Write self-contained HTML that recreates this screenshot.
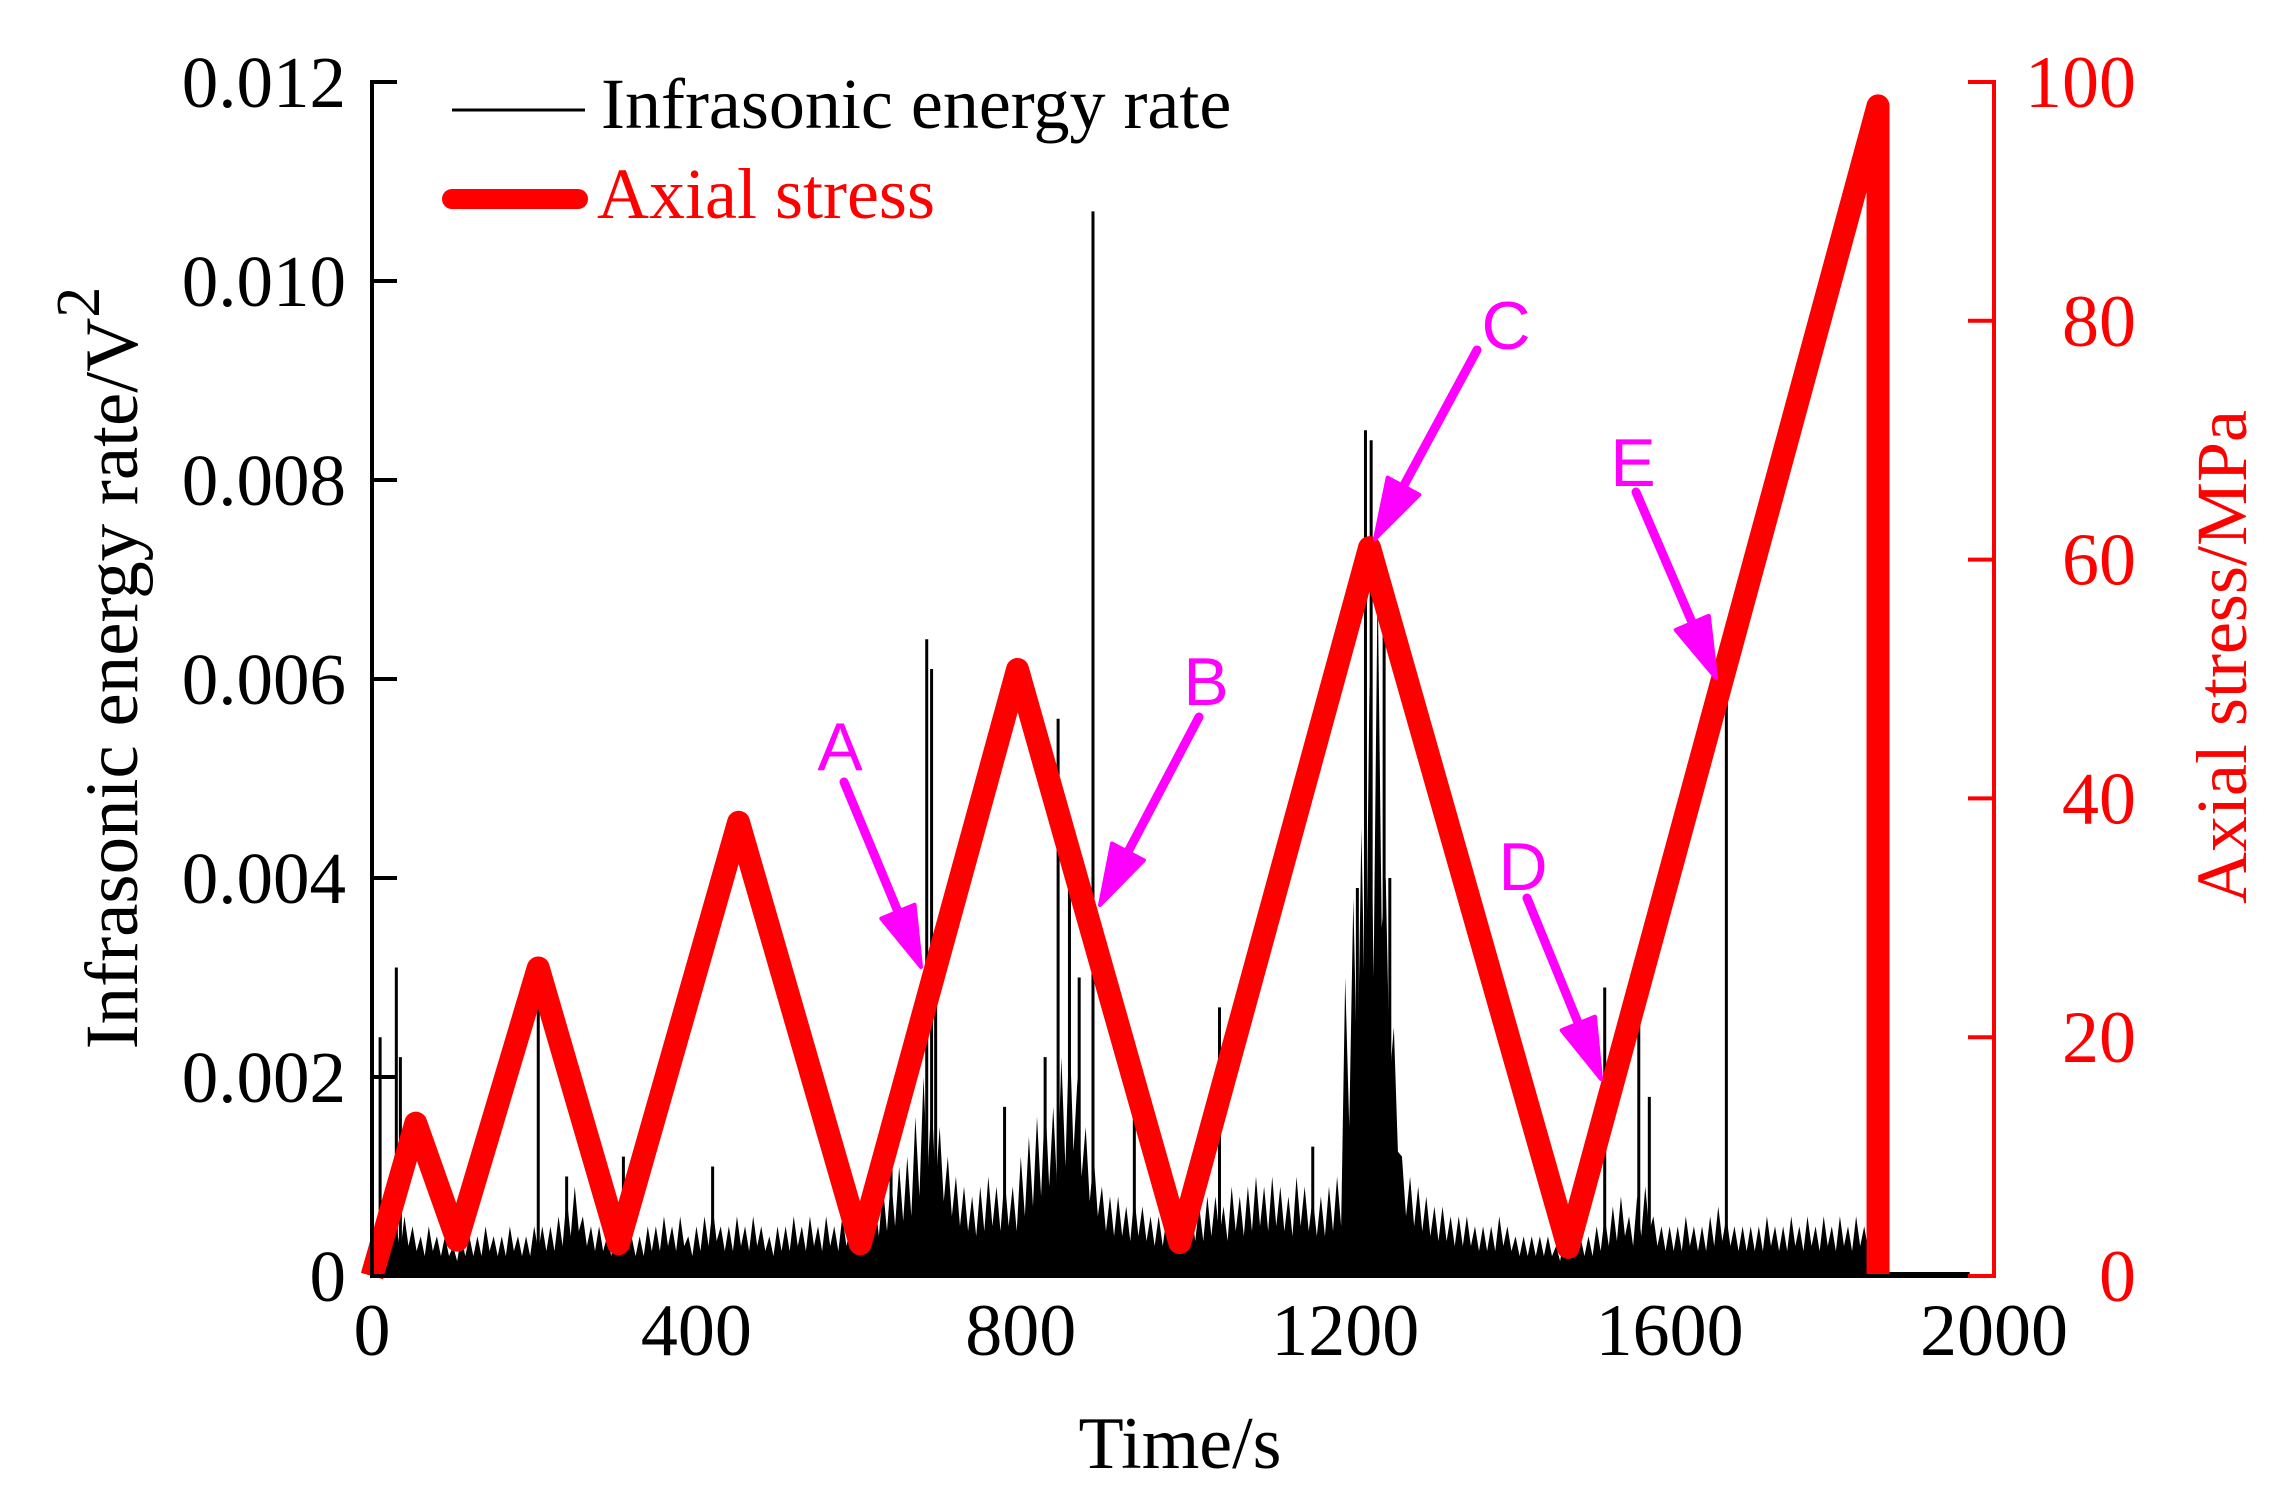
<!DOCTYPE html>
<html><head><meta charset="utf-8"><style>
html,body{margin:0;padding:0;background:#fff;}
svg{display:block;}
text{font-family:"Liberation Serif",serif;}
</style></head><body>
<svg id="chart" width="2270" height="1501" viewBox="0 0 2270 1501" xmlns="http://www.w3.org/2000/svg">
<g id="energy"></g>
<g id="stress"></g>
<g id="axes"></g>
<g id="annot"></g>
<g>
 <line x1="452" y1="110" x2="585" y2="110" stroke="#000" stroke-width="3"/>
 <text x="601" y="128" font-size="72">Infrasonic energy rate</text>
 <line x1="452" y1="199" x2="578" y2="199" stroke="#f00" stroke-width="20" stroke-linecap="round"/>
 <text x="597" y="218" font-size="72" fill="#f00">Axial stress</text>
</g>
<text transform="translate(137,668) rotate(-90)" text-anchor="middle" font-size="75">Infrasonic energy rate/V<tspan font-size="62" dy="-38">2</tspan></text>
<text transform="translate(2246,657) rotate(-90)" text-anchor="middle" font-size="72" fill="#f00">Axial stress/MPa</text>
<text x="1180" y="1468" text-anchor="middle" font-size="74">Time/s</text>
</svg>
<script>
const xTicks=[0,400,800,1200,1600,2000];
const yTicks=[0,0.002,0.004,0.006,0.008,0.010,0.012];
const yTickLabels=["0","0.002","0.004","0.006","0.008","0.010","0.012"];
const y2Ticks=[0,20,40,60,80,100];
const stressT=[0,54,105,205,304,452,602,796,996,1230,1475,1857,1857];
const stressV=[0,12.8,3,25.8,2.7,38,2.7,50.8,2.8,61,2.4,98,0];
// base infrasonic energy rate every 10 s, units 1e-4 V^2
const energyBase=[5,6,6,5,6,5,4,5,4,4,3,4,4,4,5,4,4,5,4,4,5,5,5,6,8,9,6,5,5,4,5,6,4,4,5,5,6,5,6,4,5,6,7,5,5,6,5,6,5,4,5,5,6,5,6,5,6,5,6,5,6,7,8,9,10,11,12,16,20,18,15,12,10,9,8,9,10,9,10,9,12,14,16,18,17,22,25,20,15,12,9,8,8,7,8,7,6,6,6,5,6,7,7,8,8,7,9,8,9,10,9,10,9,8,10,9,8,8,9,10,30,38,45,60,70,40,25,12,10,9,8,7,7,6,6,6,5,5,5,6,5,4,4,4,4,4,3,4,4,4,4,5,6,7,8,6,8,9,6,5,5,5,6,5,5,6,7,6,5,5,5,5,6,5,5,6,5,6,5,6,5,6,5,6,5,6];
const spikeT=[10,30,35,205,240,310,420,640,684,690,695,780,830,846,860,872,889,940,1045,1160,1215,1225,1232,1248,1255,1520,1562,1575,1670,1855];
const spikeV=[24,31,22,27,10,12,11,12,64,61,30,17,22,56,45,30,107,22,27,13,39,85,84,68,40,29,28,18,58,16];
const X0=372,X1=1994,Y0=1276,Y1=82;
const xs=t=>X0+t*(X1-X0)/2000;
const ye=v=>Y0-v*(Y0-Y1)/0.012;
const ys=s=>Y0-s*(Y0-Y1)/100;
const NS="http://www.w3.org/2000/svg";
function mk(tag,attrs,parent){const e=document.createElementNS(NS,tag);for(const k in attrs)e.setAttribute(k,attrs[k]);parent.appendChild(e);return e;}
const gE=document.getElementById('energy'),gS=document.getElementById('stress'),gA=document.getElementById('axes'),gN=document.getElementById('annot');
let d='M'+xs(0)+','+Y0;
energyBase.forEach((v,i)=>{const t=i*10;d+=' L'+xs(t)+','+ye(v*1e-4)+' L'+xs(t+5)+','+ye(v*0.5e-4);});
d+=' L'+xs((energyBase.length-1)*10+5)+','+Y0+' Z';
const area=mk('path',{d:d,fill:'#000'},gE);


spikeT.forEach((t,i)=>{const l=mk('line',{x1:xs(t),x2:xs(t),y1:Y0,y2:ye(spikeV[i]*1e-4),stroke:'#000','stroke-width':3},gE);

});
const tail=mk('line',{x1:xs(1857),x2:xs(1970),y1:Y0-2,y2:Y0-2,stroke:'#000','stroke-width':4},gE);


const pts=stressT.map((t,i)=>xs(t)+','+ys(stressV[i])).join(' ');
const sl=mk('polyline',{points:pts,fill:'none',stroke:'#f00','stroke-width':23,'stroke-linejoin':'round','stroke-linecap':'butt'},gS);


const la=mk('line',{x1:X0,x2:X0,y1:Y1-2,y2:Y0+2,stroke:'#000','stroke-width':4},gA);


const ba=mk('line',{x1:X0,x2:X1,y1:Y0,y2:Y0,stroke:'#000','stroke-width':4},gA);


const ra=mk('line',{x1:X1,x2:X1,y1:Y1-2,y2:Y0+2,stroke:'#f00','stroke-width':4},gA);


yTicks.forEach((v,i)=>{const y=ye(v);mk('line',{x1:X0,x2:X0+25,y1:y,y2:y,stroke:'#000','stroke-width':4},gA);
const t=mk('text',{x:346,y:y+25,'text-anchor':'end','font-size':73},gA);t.textContent=yTickLabels[i];

});
xTicks.forEach(v=>{const t=mk('text',{x:xs(v),y:1355,'text-anchor':'middle','font-size':74},gA);t.textContent=String(v);

});
y2Ticks.forEach(v=>{const y=ys(v);mk('line',{x1:X1-26,x2:X1,y1:y,y2:y,stroke:'#f00','stroke-width':4},gA);
const t=mk('text',{x:2136,y:y+25,'text-anchor':'end','font-size':74,fill:'#f00'},gA);t.textContent=String(v);

});
const labels=["A","B","C","D","E"];
const lblPos=[[840,770],[1206,705],[1506,349],[1523,890],[1633,486]];
const arrows=[[844,782,921,967],[1199,717,1100,905],[1477,350,1375,539],[1527,898,1601,1079],[1636,492,1716,678]];
labels.forEach((s,i)=>{const t=mk('text',{x:lblPos[i][0],y:lblPos[i][1],'text-anchor':'middle','font-size':68,fill:'#f0f'},gN);t.textContent=s;t.style.fontFamily='"Liberation Sans",sans-serif';


const [x1,y1,x2,y2]=arrows[i];const dx=x2-x1,dy=y2-y1,L=Math.hypot(dx,dy),ux=dx/L,uy=dy/L,px=-uy,py=ux;
const hx=x2-ux*60,hy=y2-uy*60;
mk('line',{x1:x1,y1:y1,x2:hx,y2:hy,stroke:'#f0f','stroke-width':9,'stroke-linecap':'round'},gN);
const h=mk('polygon',{points:`${x2},${y2} ${hx+px*18},${hy+py*18} ${hx-px*18},${hy-py*18}`,fill:'#f0f',stroke:'#f0f','stroke-width':4,'stroke-linejoin':'round'},gN);

});
</script>
</body></html>
